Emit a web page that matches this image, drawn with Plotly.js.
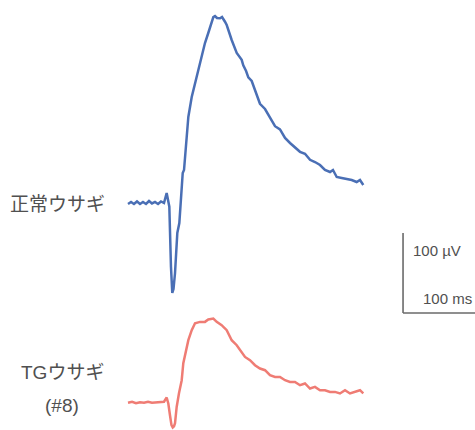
<!DOCTYPE html>
<html>
<head>
<meta charset="utf-8">
<script src="https://cdn.plot.ly/plotly-3.0.1.min.js"></script>
<style>html,body{margin:0;padding:0;background:#fff;}#chart{width:475px;height:430px;}</style>
</head>
<body>
<div id="chart"></div>
<script>
// Time (ms) and amplitude (µV)
const normalTime = [0,4.2,8.3,12.5,16.7,20.8,25,29.2,33.3,37.5,41.7,45.8,50,53.7,57.4,58.3,59.7,61.5,63.2,65.3,68.5,71.3,73.2,76,77.8,80.6,83.8,88.5,93.1,97.6,102.4,106.9,111.5,115.3,118.5,120.8,123.6,127.8,130.6,134.7,137.1,144,151,157.9,160.1,164,167.1,171.8,176.4,183.3,190.3,197.2,204.2,211.1,218.1,225,231.9,238.9,245.8,252.8,259.7,266.7,273.6,280.6,284.7,289.9,296.8,303.8,310.7,317.6,322.2,326.8];
const normalUv = [-1.25,1.25,-1.25,1.9,-1.25,1.25,-1.25,2.5,-0.6,1.25,-1.25,1.9,0,12.5,-4.6,-37.5,-80,-112.5,-107.5,-87.5,-37.5,-25,3.75,37.5,41.25,75,107.5,132.5,150,166.25,182.5,200,212.5,225,232.5,233.75,231.25,230.9,232.5,226.6,222.5,203.75,187.5,179,172,165,157,152.5,141.25,124,117.5,106.25,96,92,81.25,75,70,64,61.5,54,51.25,47.5,41.25,38.75,41.25,32.5,31.25,30,28.75,26.25,28.75,22.5];

const tgTime = [0,5.6,11.1,16.7,22.2,27.8,33.3,38.9,44.4,50,53.7,56,58.3,60.4,62.1,63.9,65.3,67.6,70.8,74.6,76.8,81.5,83.8,88.5,93.1,100,106.9,111.5,118.5,123.2,130.1,137.1,144,151,157.9,162.5,169.4,176.4,183.3,190.3,197.2,204.2,211.1,218.1,225,231.9,238.9,245.8,252.8,259.7,266.7,273.6,280.6,287.5,294.4,301.4,308.3,315.3,322.2,326.8];
const tgUv = [-0.6,0.6,-1.25,0,-0.6,0.6,-0.6,0,0,0.6,5.9,-1.6,-16.25,-28.75,-31.6,-30,-26.25,-5.9,11.25,27.5,48.75,69.1,77.5,90,98.75,100.4,100.4,103.4,104.6,100.4,96.25,90,77.5,71.25,62.9,56.6,52.5,46.25,42.1,40,33.75,31.6,31.6,27.5,25.4,25.4,21.25,23.4,17.1,19.1,15,15,12.9,12.9,10.9,15,10.9,12.9,15,10.9];

const labels = ["正常ウサギ", "TGウサギ", "(#8)"];
const scaleMs = 100;   // horizontal scale bar
const scaleUv = 100;   // vertical scale bar
const tgOffset = -249; // vertical stacking offset for the TG trace

const W = 475, H = 430;
const px = x => x / W;
const py = y => 1 - y / H;

const traces = [
  {x: normalTime, y: normalUv, type: 'scatter', mode: 'lines',
   line: {color: '#4a6fb5', width: 2.5, shape: 'linear'}, hoverinfo: 'skip'},
  {x: tgTime, y: tgUv.map(v => v + tgOffset), type: 'scatter', mode: 'lines',
   line: {color: '#ef7c74', width: 2.5, shape: 'linear'}, hoverinfo: 'skip'}
];

const sbX0 = 382, sbYTop = -37.5;
const shapes = [
  {type: 'line', xref: 'x', yref: 'y', x0: sbX0, x1: sbX0, y0: sbYTop, y1: sbYTop - scaleUv,
   line: {color: '#6a6a6a', width: 1.6}},
  {type: 'line', xref: 'x', yref: 'y', x0: sbX0, x1: sbX0 + scaleMs, y0: sbYTop - scaleUv, y1: sbYTop - scaleUv,
   line: {color: '#6a6a6a', width: 1.6}}
];

const lblFont = {family: 'Liberation Sans, Noto Sans CJK JP, sans-serif', size: 19, color: '#505050'};
const sbFont = {family: 'Liberation Sans, sans-serif', size: 15, color: '#505050'};

const annotations = [
  {text: labels[0], xref: 'paper', yref: 'paper', x: px(57), y: py(205), xanchor: 'center', yanchor: 'middle', showarrow: false, font: lblFont},
  {text: labels[1], xref: 'paper', yref: 'paper', x: px(62), y: py(372), xanchor: 'center', yanchor: 'middle', showarrow: false, font: lblFont},
  {text: labels[2], xref: 'paper', yref: 'paper', x: px(62), y: py(405), xanchor: 'center', yanchor: 'middle', showarrow: false, font: lblFont},
  {text: scaleUv + ' µV', xref: 'paper', yref: 'paper', x: px(411), y: py(250), xanchor: 'left', yanchor: 'middle', showarrow: false, font: sbFont},
  {text: scaleMs + ' ms', xref: 'paper', yref: 'paper', x: px(421), y: py(298.5), xanchor: 'left', yanchor: 'middle', showarrow: false, font: sbFont}
];

const layout = {
  width: W, height: H,
  margin: {l: 0, r: 0, t: 0, b: 0, pad: 0},
  paper_bgcolor: '#fff', plot_bgcolor: '#fff',
  showlegend: false,
  xaxis: {range: [-128 * 100 / 72, (W - 128) * 100 / 72], visible: false, fixedrange: true},
  yaxis: {range: [(203 - H) * 1.25, 203 * 1.25], visible: false, fixedrange: true},
  shapes: shapes,
  annotations: annotations
};

Plotly.newPlot('chart', traces, layout, {staticPlot: true, displayModeBar: false});
</script>
</body>
</html>
